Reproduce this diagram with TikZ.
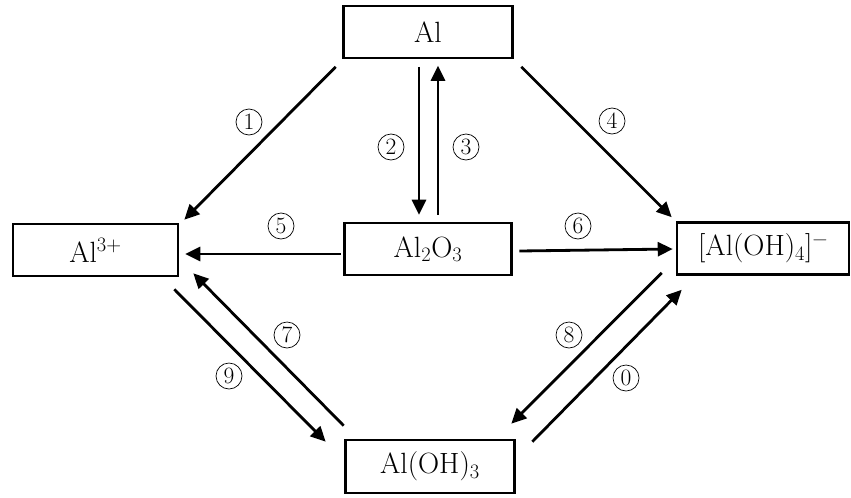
\documentclass[tikz,border=0pt]{standalone}
\usepackage{fontspec}
\setmainfont{Latin Modern Roman}
\usepackage{tikz}
\usetikzlibrary{arrows.meta}

\begin{document}
\begin{tikzpicture}[x=0.03cm,y=-0.03cm,
    box/.style={draw,line width=2.2pt,minimum width=5.07cm,minimum height=1.56cm,inner sep=0pt,font=\fontsize{25}{29}\selectfont},
    num/.style={draw,circle,line width=0.6pt,minimum size=0.78cm,inner sep=0pt,font=\fontsize{20}{23}\selectfont},
    conv/.style={line width=2.4pt,-{Triangle[length=0.45cm,width=0.42cm]}}]
\useasboundingbox (0,0) rectangle (851,497);
% the five species
\node [box] (al) at (428,32) {Al};
\node [box,minimum width=4.95cm] (alion) at (95.5,250) {Al\textsuperscript{3+}};
\node [box,minimum width=5.01cm] (oxide) at (428,249) {Al\textsubscript{2}O\textsubscript{3}};
\node [box,minimum width=5.16cm] (aluminate) at (763,248.5) {[Al(OH)\textsubscript{4}]\textsuperscript{−}};
\node [box,minimum height=1.59cm] (hydroxide) at (430,466.5) {Al(OH)\textsubscript{3}};
% conversions
\draw [conv] ([shift={(-6.5,7.5)}]al.south west) -- ([shift={(5,-3)}]alion.north east);
\draw [conv] ([shift={(-9,7.5)}]al.south) -- ([shift={(-9,-7)}]oxide.north);
\draw [conv] ([shift={(10,-7)}]oxide.north) -- ([shift={(10,6.5)}]al.south);
\draw [conv] ([shift={(7.5,7.5)}]al.south east) -- ([shift={(-4,-4)}]aluminate.north west);
\draw [conv] ([shift={(-2.5,5)}]oxide.west) -- ([shift={(6,4)}]alion.east);
\draw [conv] ([shift={(6.5,2)}]oxide.east) -- ([shift={(-3,0.5)}]aluminate.west);
\draw [conv] ([shift={(-0.5,-13)}]hydroxide.north west) -- ([shift={(14,-4)}]alion.south east);
\draw [conv] ([shift={(-5,12)}]alion.south east) -- ([shift={(-18.5,3)}]hydroxide.north west);
\draw [conv] ([shift={(-14,-3)}]aluminate.south west) -- ([shift={(-4.5,-15)}]hydroxide.north east);
\draw [conv] ([shift={(16.5,3)}]hydroxide.north east) -- ([shift={(6,14)}]aluminate.south west);
% circled numbers
\node [num] (n1) at (249,122) {1};
\node [num] (n2) at (391,147) {2};
\node [num] (n3) at (466,147) {3};
\node [num] (n4) at (612,121) {4};
\node [num] (n5) at (281,226) {5};
\node [num] (n6) at (578,226) {6};
\node [num] (n7) at (287,335) {7};
\node [num] (n8) at (569,335) {8};
\node [num] (n9) at (229,376) {9};
\node [num] (n0) at (626,378) {0};
\end{tikzpicture}
\end{document}
